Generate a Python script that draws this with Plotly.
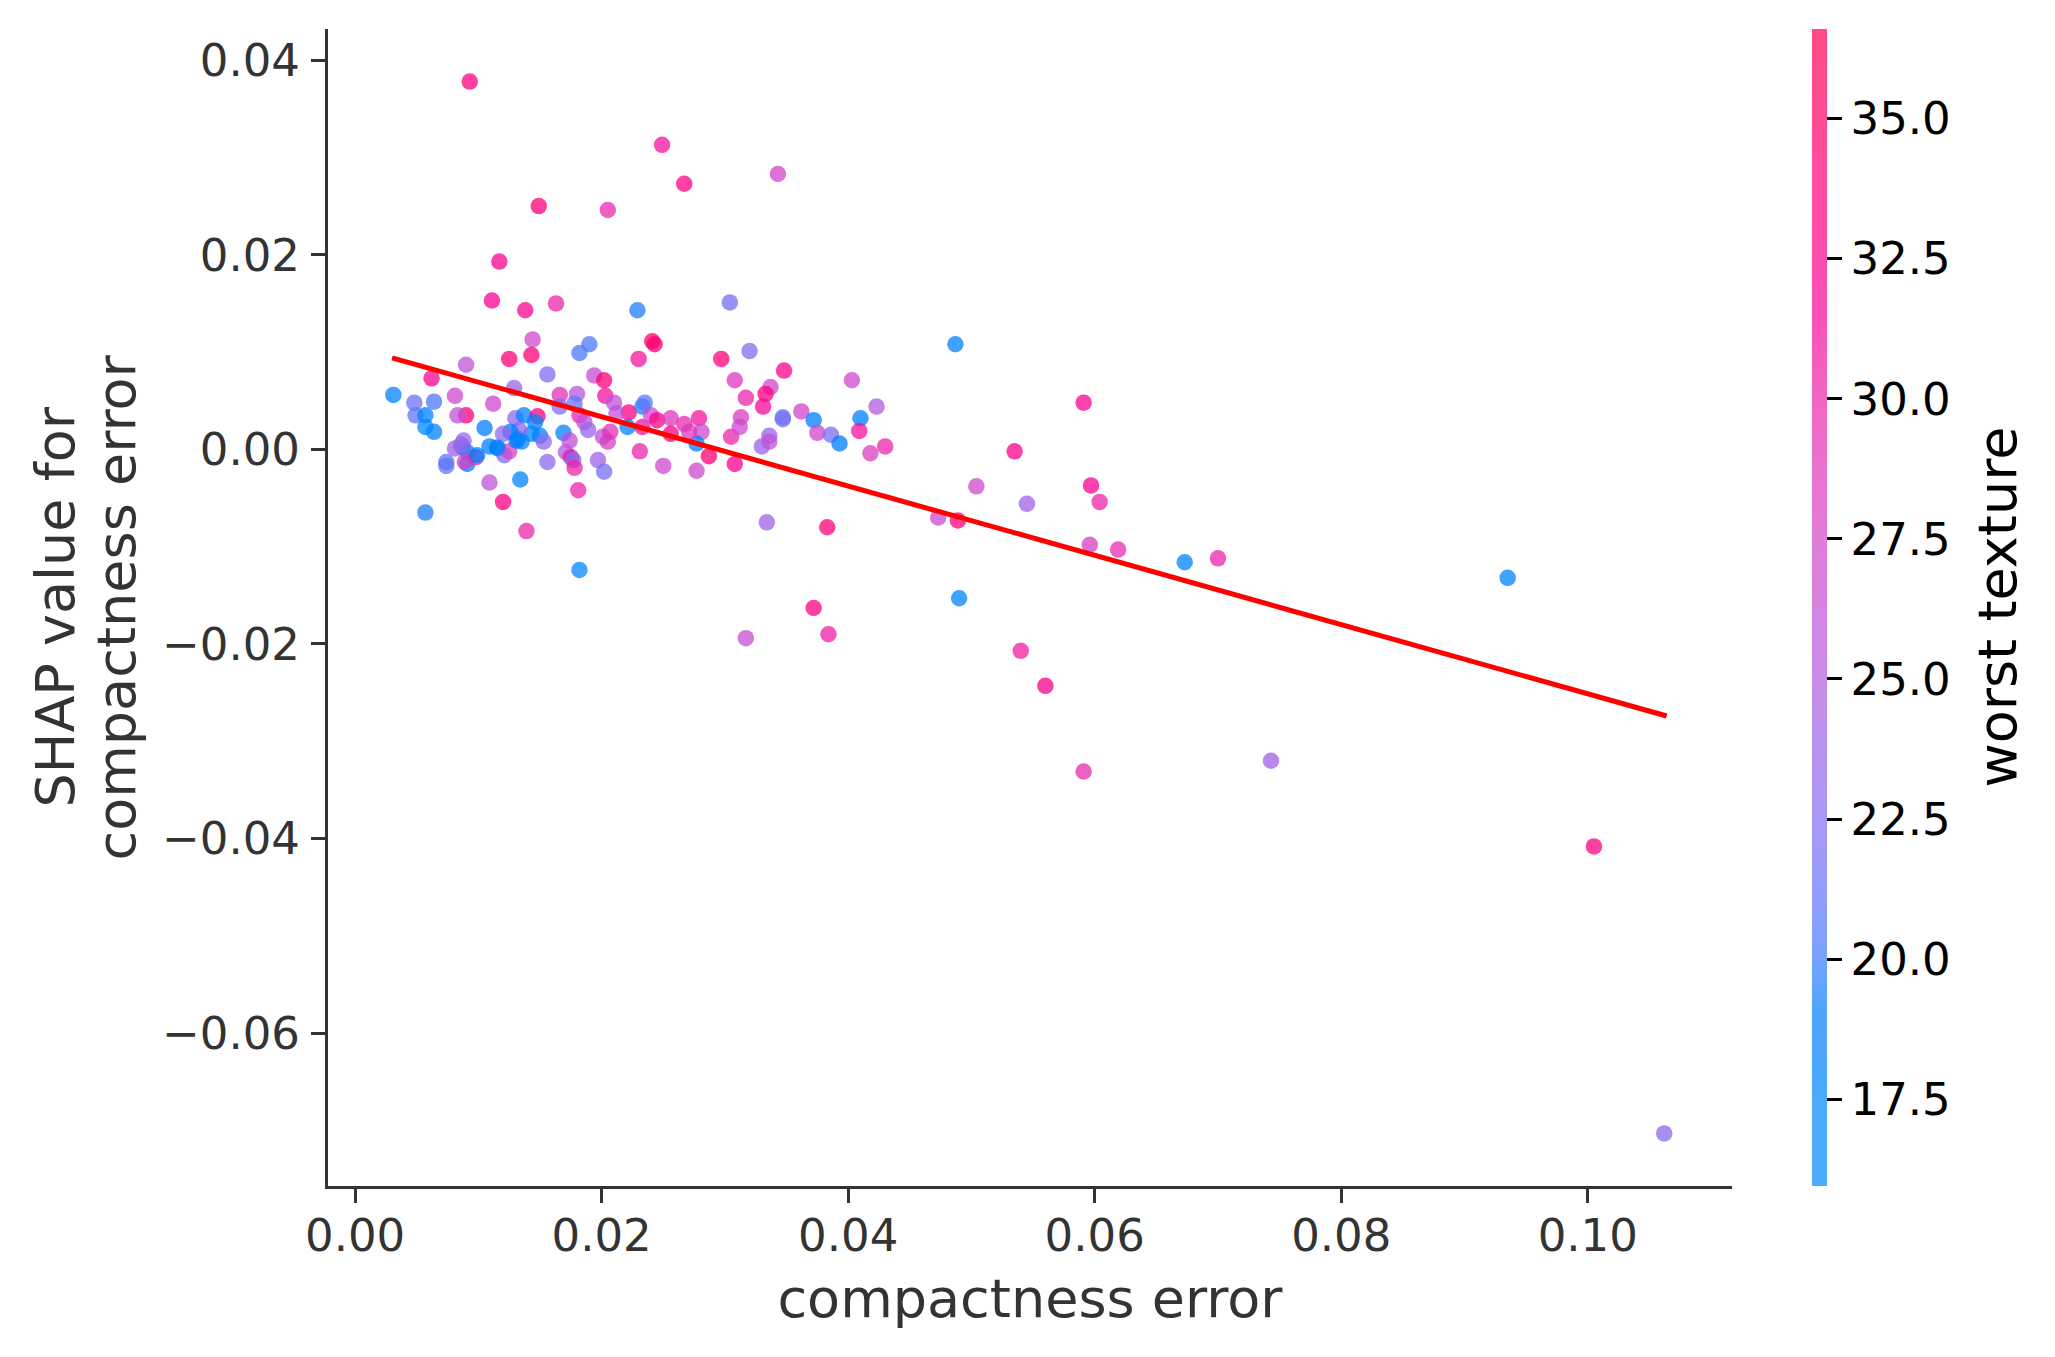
import numpy as np
import plotly.graph_objects as go

# ---------------- data ----------------
compactness_error = [
    0.0093, 0.0249, 0.0267, 0.0343, 0.0149, 0.0205, 0.0117, 0.0111, 0.0138, 0.0163, 0.0229, 0.0304,
    0.0144, 0.0190, 0.0182, 0.0241, 0.0243, 0.0125, 0.0143, 0.0230, 0.0297, 0.0320, 0.0090, 0.0156,
    0.0194, 0.0202, 0.0308, 0.0348, 0.0403, 0.0062, 0.0031, 0.0048, 0.0064, 0.0081, 0.0129, 0.0166,
    0.0180, 0.0203, 0.0210, 0.0317, 0.0337, 0.0333, 0.0331, 0.0362, 0.0423, 0.0049, 0.0057, 0.0057,
    0.0064, 0.0090, 0.0083, 0.0112, 0.0105, 0.0130, 0.0137, 0.0148, 0.0146, 0.0143, 0.0150, 0.0132,
    0.0133, 0.0126, 0.0120, 0.0153, 0.0166, 0.0169, 0.0182, 0.0186, 0.0189, 0.0174, 0.0171, 0.0175,
    0.0177, 0.0178, 0.0197, 0.0202, 0.0181, 0.0201, 0.0205, 0.0207, 0.0222, 0.0221, 0.0233, 0.0235,
    0.0233, 0.0240, 0.0245, 0.0256, 0.0267, 0.0279, 0.0281, 0.0256, 0.0277, 0.0287, 0.0231, 0.0250,
    0.0277, 0.0308, 0.0305, 0.0313, 0.0312, 0.0330, 0.0336, 0.0336, 0.0347, 0.0347, 0.0372, 0.0375,
    0.0386, 0.0393, 0.0410, 0.0409, 0.0418, 0.0430, 0.0081, 0.0088, 0.0087, 0.0091, 0.0091, 0.0089,
    0.0074, 0.0074, 0.0098, 0.0099, 0.0109, 0.0116, 0.0121, 0.0125, 0.0156, 0.0109, 0.0134, 0.0120,
    0.0057, 0.0139, 0.0182, 0.0334, 0.0383, 0.0372, 0.0384, 0.0317,
    0.0131, 0.0135, 0.0115, 0.0086, 0.0271, 0.0212, 0.0178,
    0.0487, 0.0591, 0.0535, 0.0504, 0.0545, 0.0597, 0.0604, 0.0473, 0.0489, 0.0596, 0.0619, 0.0673,
    0.0700, 0.0490, 0.0540, 0.0560,
    0.0935, 0.0743, 0.0591, 0.1005, 0.1062,
]
shap_values = [
    0.0378, 0.0313, 0.0273, 0.0283, 0.0250, 0.0246, 0.0193, 0.0153, 0.0143, 0.0150, 0.0143, 0.0151,
    0.0113, 0.0108, 0.0099, 0.0111, 0.0108, 0.0093, 0.0097, 0.0093, 0.0093, 0.0101, 0.0087, 0.0077,
    0.0076, 0.0071, 0.0071, 0.0081, 0.0071, 0.0073, 0.0056, 0.0048, 0.0049, 0.0055, 0.0063, 0.0056,
    0.0057, 0.0055, 0.0048, 0.0053, 0.0064, 0.0057, 0.0044, 0.0039, 0.0044, 0.0035, 0.0035, 0.0023,
    0.0018, 0.0035, 0.0035, 0.0047, 0.0022, 0.0032, 0.0035, 0.0034, 0.0028, 0.0016, 0.0014, 0.0011,
    0.0020, 0.0018, 0.0016, 0.0008, 0.0044, 0.0017, 0.0035, 0.0028, 0.0020, 0.0009, -0.0003, -0.0008,
    -0.0011, -0.0019, -0.0011, -0.0023, -0.0042, 0.0013, 0.0008, 0.0018, 0.0038, 0.0023, 0.0044, 0.0048,
    0.0023, 0.0035, 0.0030, 0.0032, 0.0026, 0.0032, 0.0018, 0.0016, 0.0006, -0.0007, -0.0002, -0.0017,
    -0.0022, -0.0015, 0.0013, 0.0033, 0.0023, 0.0003, 0.0014, 0.0008, 0.0033, 0.0031, 0.0030, 0.0017,
    0.0015, 0.0006, 0.0032, 0.0019, -0.0004, 0.0003, 0.0001, 0.0009, 0.0002, -0.0003, -0.0015, -0.0013,
    -0.0013, -0.0017, -0.0008, -0.0006, 0.0003, 0.0001, -0.0006, -0.0002, -0.0013, -0.0034, -0.0031, -0.0054,
    -0.0065, -0.0084, -0.0124, -0.0075, -0.0080, -0.0163, -0.0190, -0.0194,
    0.0009, 0.0008, 0.0002, 0.0005, 0.0018, 0.0037, 0.0047,
    0.0108, 0.0048, -0.0002, -0.0038, -0.0056, -0.0037, -0.0054, -0.0070, -0.0073, -0.0098, -0.0103, -0.0116,
    -0.0112, -0.0153, -0.0207, -0.0243,
    -0.0132, -0.0320, -0.0331, -0.0408, -0.0703,
]
worst_texture = [
    33, 31, 33, 27.5, 34, 29.5, 32, 32, 32, 30, 19.5, 22,
    27, 20.5, 20.5, 35, 34.5, 34, 34, 31, 34, 22.5, 26, 22.5,
    26.5, 34, 28.5, 32, 27, 32, 18.5, 21.5, 20.5, 27, 23.5, 29,
    25.5, 31, 26, 30, 27, 33, 31.5, 27.5, 25, 21, 18, 17,
    17.5, 34, 26, 27, 19, 23, 18.5, 34, 18, 18, 18, 20,
    23, 19, 23, 23, 22.5, 18.5, 30, 26, 23.5, 26.5, 25, 31,
    22, 30, 24, 22, 30, 26, 28, 29, 33, 18.5, 19.5, 21,
    31, 27, 33, 28.5, 29.5, 31, 27, 33, 19, 34, 30, 27,
    27, 32, 30, 28, 27, 23.5, 24, 26, 21, 22, 19, 27,
    22, 19, 19, 31, 28, 30, 24, 23.5, 25, 19.5, 19, 28,
    21, 21, 30, 18.5, 18.5, 18.5, 23, 27.5, 23, 26, 17.5, 33,
    19.5, 30, 17, 24, 34, 33, 30.5, 26.5,
    19, 18, 18, 23, 28.5, 26, 21,
    18, 32, 32, 27, 24, 32, 30, 27, 33, 28, 29.5, 18,
    30, 18, 30.5, 32.5,
    18.5, 24, 29.5, 33, 23,
]
trend_x = [0.0030, 0.1064]
trend_y = [0.0094, -0.0274]

x_ticks = [0.00, 0.02, 0.04, 0.06, 0.08, 0.10]
y_ticks = [-0.06, -0.04, -0.02, 0.00, 0.02, 0.04]
cbar_ticks = [17.5, 20.0, 22.5, 25.0, 27.5, 30.0, 32.5, 35.0]
c_low, c_high = 15.95, 36.6

# ---------------- SHAP red_blue colormap (LCH interpolation) ----------------
def shap_rgb(t):
    L = 54.0
    C = 70.0 + t * 20.0
    h0, h1 = 4.6588, 0.35470565 + 2 * np.pi
    H = h0 + t * (h1 - h0)
    a, b = C * np.cos(H), C * np.sin(H)
    fy = (L + 16) / 116
    fx = fy + a / 500
    fz = fy - b / 200
    def finv(v):
        return v ** 3 if v > 6 / 29 else 3 * (6 / 29) ** 2 * (v - 4 / 29)
    X, Y, Z = 0.95047 * finv(fx), finv(fy), 1.08883 * finv(fz)
    r = 3.2406 * X - 1.5372 * Y - 0.4986 * Z
    g = -0.9689 * X + 1.8758 * Y + 0.0415 * Z
    bl = 0.0557 * X - 0.2040 * Y + 1.0570 * Z
    def gam(c):
        c = min(max(c, 0.0), 1.0)
        return 12.92 * c if c <= 0.0031308 else 1.055 * c ** (1 / 2.4) - 0.055
    return [gam(r) * 255, gam(g) * 255, gam(bl) * 255]

alpha = 0.75
stops = np.linspace(0, 1, 21)
scale_full = [[float(s), "rgb(%d,%d,%d)" % tuple(int(round(v)) for v in shap_rgb(s))] for s in stops]
scale_light = []
for s in stops:
    rgb = shap_rgb(s)
    lt = [0.7 * v + 0.3 * 255 for v in rgb]
    scale_light.append([float(s), "rgb(%d,%d,%d)" % tuple(int(round(v)) for v in lt)])

# ---------------- figure ----------------
W, H = 2055, 1357
OFF = 8  # page body margin
ml, mr, mt, mb = 328 - OFF, 2055 - 1732 + OFF, 29 - OFF, 171 + OFF
plot_w = W - ml - mr
plot_h = H - mt - mb

fig = go.Figure()
fig.add_trace(go.Scatter(
    x=compactness_error, y=shap_values, mode="markers",
    marker=dict(size=16.5, color=worst_texture, colorscale=scale_full,
                cmin=c_low, cmax=c_high, opacity=alpha, line=dict(width=0),
                showscale=False),
    showlegend=False, hoverinfo="skip"))
# invisible copy carrying the (alpha-blended) colour bar
fig.add_trace(go.Scatter(
    x=compactness_error, y=shap_values, mode="markers",
    marker=dict(size=1, color=worst_texture, colorscale=scale_light,
                cmin=c_low, cmax=c_high, opacity=0,
                showscale=True,
                colorbar=dict(
                    x=(1812 - OFF - ml) / plot_w, xanchor="left", xpad=0,
                    y=0.5, yanchor="middle", ypad=0,
                    len=1.0, lenmode="fraction", thickness=14.5,
                    outlinewidth=0,
                    tickvals=cbar_ticks, tickformat=".1f",
                    ticks="outside", ticklen=15, tickwidth=2.5, tickcolor="black",
                    tickfont=dict(family="DejaVu Sans", size=45, color="black"),
                )),
    showlegend=False, hoverinfo="skip"))
fig.add_trace(go.Scatter(
    x=trend_x, y=trend_y, mode="lines",
    line=dict(color="red", width=5), showlegend=False, hoverinfo="skip"))

axis_font = dict(family="DejaVu Sans", size=45, color="#333333")
title_font = dict(family="DejaVu Sans", size=54, color="#333333")

# y-axis title: two rotated lines placed like the reference
for txt, px in [("SHAP value for", 55), ("compactness error", 116)]:
    fig.add_annotation(text=txt, xref="paper", yref="paper",
                       x=(px - OFF - ml) / plot_w, y=0.5, xanchor="center", yanchor="middle",
                       textangle=-90, showarrow=False, font=title_font)
# colour bar label
fig.add_annotation(text="worst texture", xref="paper", yref="paper",
                   x=(1997 - OFF - ml) / plot_w, y=0.5, xanchor="center", yanchor="middle",
                   textangle=-90, showarrow=False,
                   font=dict(family="DejaVu Sans", size=54, color="black"))

fig.update_layout(
    width=W, height=H,
    margin=dict(l=ml, r=mr, t=mt, b=mb, pad=0),
    paper_bgcolor="white", plot_bgcolor="white",
    font=dict(family="DejaVu Sans"),
    xaxis=dict(range=[-0.0022, 0.1117], tickvals=x_ticks, tickformat=".2f",
               showgrid=False, zeroline=False, showline=True, linecolor="#333333",
               linewidth=3, ticks="outside", ticklen=14, tickwidth=3, tickcolor="#333333",
               tickfont=axis_font, ticklabelstandoff=-6,
               title=dict(text="compactness error", font=title_font, standoff=19)),
    yaxis=dict(range=[-0.0757, 0.0432], tickvals=y_ticks, tickformat=".2f",
               showgrid=False, zeroline=False, showline=True, linecolor="#333333",
               linewidth=3, ticks="outside", ticklen=14, tickwidth=3, tickcolor="#333333",
               tickfont=axis_font, ticklabelstandoff=2),
)

fig.write_html("out.html")
